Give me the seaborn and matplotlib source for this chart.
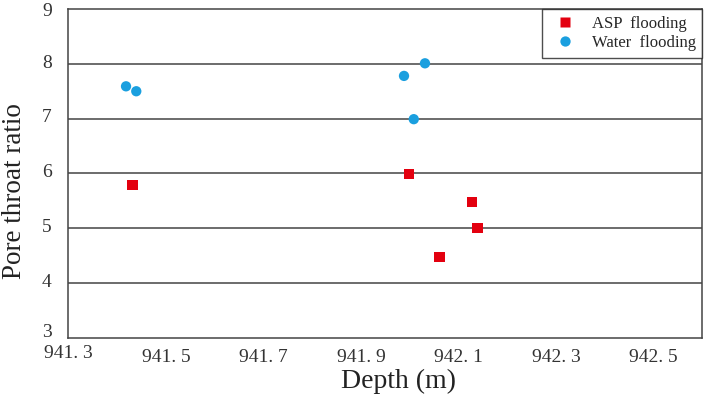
import matplotlib
matplotlib.use("Agg")
import matplotlib.pyplot as plt
import seaborn as sns
import pandas as pd
from matplotlib.ticker import MultipleLocator, FixedLocator
from matplotlib.transforms import ScaledTranslation

# data
asp_depth = [941.431, 941.998, 942.127, 942.139, 942.061]
asp_ratio = [5.79, 5.99, 5.48, 5.00, 4.47]
water_depth = [941.418, 941.439, 941.988, 942.031, 942.008]
water_ratio = [7.59, 7.50, 7.78, 8.01, 6.99]
x_ticks = [941.3, 941.5, 941.7, 941.9, 942.1, 942.3, 942.5]
x_labels = ["941. 3", "941. 5", "941. 7", "941. 9", "942. 1", "942. 3", "942. 5"]

df = pd.DataFrame({
    "depth": asp_depth + water_depth,
    "ratio": asp_ratio + water_ratio,
    "group": ["ASP  flooding"] * len(asp_depth) + ["Water  flooding"] * len(water_depth),
})

sns.set_style("white")
plt.rcParams["font.family"] = ["Liberation Serif", "DejaVu Serif"]

fig, ax = plt.subplots(figsize=(7.06, 3.95), dpi=100)
fig.subplots_adjust(left=0.097, right=0.995, top=0.977, bottom=0.145)

for y in [4, 5, 6, 7, 8]:
    ax.axhline(y, color="#444444", lw=1.1, zorder=0)

sns.scatterplot(data=df, x="depth", y="ratio", hue="group", style="group",
                palette=["#e3000f", "#1a9fdf"], markers=["s", "o"],
                s=55, edgecolor="none", ax=ax, zorder=3)

ax.set_xlim(941.3, 942.6)
ax.set_ylim(3, 9)
ax.xaxis.set_major_locator(FixedLocator(x_ticks))
ax.set_xticklabels(x_labels)
ax.xaxis.set_minor_locator(MultipleLocator(0.1))
ax.tick_params(axis="x", which="major", direction="in", length=7, width=1.1,
               color="#444444", labelsize=14, pad=8, labelcolor="#333333")
ax.tick_params(axis="x", which="minor", direction="in", length=4, width=1.1,
               color="#444444")
ax.set_yticks([3, 4, 5, 6, 7, 8, 9])
ax.tick_params(axis="y", length=0, labelsize=14, pad=12, labelcolor="#333333")

# labels sit a little above their gridlines, first x label a little higher
ylabs = ax.get_yticklabels()
shifts = [5, 2, 2, 2, 2, 2, 0]
for lab, dy in zip(ylabs, shifts):
    lab.set_transform(lab.get_transform() + ScaledTranslation(0, dy / 72, fig.dpi_scale_trans))
xl0 = ax.get_xticklabels()[0]
xl0.set_transform(xl0.get_transform() + ScaledTranslation(0, 3 / 72, fig.dpi_scale_trans))

for sp in ax.spines.values():
    sp.set_color("#444444")
    sp.set_linewidth(1.1)

ax.set_xlabel("Depth (m)", fontsize=20, color="#222222")
ax.set_ylabel("Pore throat ratio", fontsize=19.5, color="#222222")
ax.xaxis.set_label_coords(0.521, -0.095)
ax.yaxis.set_label_coords(-0.066, 0.447)

leg = ax.legend(loc="upper right", frameon=True, fontsize=12, fancybox=False,
                borderaxespad=0, handletextpad=0.6, borderpad=0.4,
                labelspacing=0.2, markerscale=1.0)
leg.get_frame().set_edgecolor("#222222")
leg.get_frame().set_linewidth(1.0)

plt.savefig("out.png", dpi=100)
